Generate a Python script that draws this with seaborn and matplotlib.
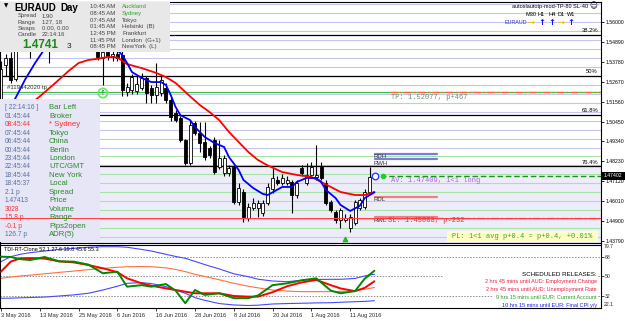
import numpy as np
import pandas as pd
import matplotlib
matplotlib.use("Agg")
import matplotlib.pyplot as plt
import seaborn as sns
from matplotlib.patches import Rectangle

sns.set_style("white")
plt.rcParams["font.family"] = ["Liberation Sans", "DejaVu Sans"]

W, H = 625, 321

# ---------------- data ----------------
opens = [1.5150, 1.5360, 1.5399, 1.5280, 1.5450, 1.5500, 1.5530, 1.5470, 1.5540, 1.5570,
         1.5510, 1.5530, 1.5600, 1.5630, 1.5590, 1.5620, 1.5680, 1.5650, 1.5580, 1.5540,
         1.5480, 1.5400, 1.5430, 1.5410, 1.5420, 1.5416, 1.5210, 1.5221, 1.5215, 1.5232,
         1.5288, 1.5232, 1.5193, 1.5204, 1.5232, 1.5165, 1.5092, 1.5065, 1.4942, 1.4814,
         1.5037, 1.4981, 1.4931, 1.4897, 1.4942, 1.4791, 1.4758, 1.4758, 1.4791, 1.4596,
         1.4652, 1.4507, 1.4563, 1.4563, 1.4535, 1.4591, 1.4669, 1.4719, 1.4702, 1.4702,
         1.4708, 1.4635, 1.4786, 1.4702, 1.4747, 1.4736, 1.4791, 1.4702, 1.4596, 1.4540,
         1.4496, 1.4496, 1.4451, 1.4479, 1.4563, 1.4568, 1.4652, 1.4736]
highs = [1.5380, 1.5420, 1.5430, 1.5470, 1.5520, 1.5560, 1.5580, 1.5560, 1.5600, 1.5620,
         1.5560, 1.5620, 1.5660, 1.5680, 1.5650, 1.5700, 1.5740, 1.5700, 1.5620, 1.5580,
         1.5520, 1.5470, 1.5480, 1.5460, 1.5450, 1.5440, 1.5260, 1.5310, 1.5300, 1.5316,
         1.5300, 1.5250, 1.5371, 1.5300, 1.5260, 1.5180, 1.5110, 1.5075, 1.4950, 1.5053,
         1.5050, 1.5042, 1.5042, 1.4910, 1.4960, 1.4942, 1.4860, 1.4800, 1.4800, 1.4700,
         1.4670, 1.4590, 1.4620, 1.4610, 1.4610, 1.4700, 1.4786, 1.4740, 1.4750, 1.4740,
         1.4720, 1.4720, 1.4800, 1.4814, 1.4819, 1.4914, 1.4819, 1.4720, 1.4610, 1.4550,
         1.4560, 1.4530, 1.4530, 1.4610, 1.4620, 1.4670, 1.4791, 1.4745]
lows = [1.5120, 1.5300, 1.5260, 1.5270, 1.5440, 1.5460, 1.5399, 1.5450, 1.5500, 1.5480,
        1.5370, 1.5510, 1.5560, 1.5570, 1.5540, 1.5600, 1.5620, 1.5560, 1.5500, 1.5440,
        1.5390, 1.5249, 1.5390, 1.5385, 1.5380, 1.5190, 1.5190, 1.5200, 1.5200, 1.5220,
        1.5148, 1.5148, 1.5148, 1.5190, 1.5150, 1.5050, 1.5040, 1.4930, 1.4802, 1.4800,
        1.4970, 1.4875, 1.4830, 1.4840, 1.4750, 1.4780, 1.4740, 1.4740, 1.4585, 1.4580,
        1.4485, 1.4490, 1.4550, 1.4513, 1.4520, 1.4580, 1.4646, 1.4690, 1.4690, 1.4690,
        1.4535, 1.4620, 1.4740, 1.4690, 1.4730, 1.4720, 1.4720, 1.4580, 1.4540, 1.4480,
        1.4451, 1.4485, 1.4429, 1.4470, 1.4550, 1.4555, 1.4640, 1.4735]
closes = [1.5340, 1.5399, 1.5277, 1.5450, 1.5500, 1.5530, 1.5470, 1.5540, 1.5570, 1.5510,
          1.5530, 1.5600, 1.5630, 1.5590, 1.5620, 1.5680, 1.5650, 1.5580, 1.5540, 1.5480,
          1.5405, 1.5430, 1.5410, 1.5420, 1.5400, 1.5221, 1.5237, 1.5293, 1.5255, 1.5288,
          1.5204, 1.5193, 1.5237, 1.5277, 1.5165, 1.5070, 1.5053, 1.4942, 1.4814, 1.5026,
          1.4981, 1.4925, 1.4847, 1.4858, 1.4763, 1.4841, 1.4841, 1.4786, 1.4596, 1.4674,
          1.4513, 1.4568, 1.4591, 1.4591, 1.4591, 1.4680, 1.4730, 1.4702, 1.4730, 1.4719,
          1.4635, 1.4702, 1.4758, 1.4747, 1.4791, 1.4747, 1.4730, 1.4591, 1.4551, 1.4496,
          1.4551, 1.4507, 1.4513, 1.4596, 1.4607, 1.4652, 1.4736, 1.4740]

date_ticks = [0, 8, 16, 24, 32, 40, 48, 56, 64, 72]
date_labels = ["3 May 2016", "13 May 2016", "25 May 2016", "6 Jun 2016", "16 Jun 2016",
               "28 Jun 2016", "8 Jul 2016", "20 Jul 2016", "1 Aug 2016", "11 Aug 2016"]

fast_idx = [0, 1, 3, 5, 7, 9, 12, 15, 18, 21, 23, 25, 26, 27, 29, 31, 33, 34, 35, 36,
            37, 39, 40, 42, 44, 46, 47, 49, 50, 52, 54, 55, 56, 58, 60, 61, 63, 65, 66, 67,
            69, 70, 72, 74, 75, 77]
fast_ma = [1.5000, 1.5080, 1.5176, 1.5280, 1.5370, 1.5450, 1.5530, 1.5580, 1.5580, 1.5530,
           1.5470, 1.5416, 1.5371, 1.5321, 1.5288, 1.5265, 1.5265, 1.5249, 1.5193, 1.5126,
           1.5080, 1.5053, 1.5014, 1.4959, 1.4925, 1.4903, 1.4847, 1.4775, 1.4719, 1.4674,
           1.4641, 1.4635, 1.4650, 1.4680, 1.4680, 1.4708, 1.4730, 1.4730, 1.4708, 1.4663,
           1.4618, 1.4580, 1.4546, 1.4575, 1.4618, 1.4650]
slow_idx = [0, 3, 5, 8, 11, 14, 16, 18, 20, 22, 24, 26, 29, 32, 34, 36, 39, 41, 43, 45,
            47, 49, 51, 53, 55, 58, 61, 64, 66, 68, 70, 73, 75, 77]
slow_ma = [1.5000, 1.5070, 1.5120, 1.5185, 1.5255, 1.5328, 1.5371, 1.5388, 1.5395, 1.5405,
           1.5402, 1.5365, 1.5343, 1.5316, 1.5293, 1.5260, 1.5185, 1.5137, 1.5098, 1.5053,
           1.4987, 1.4931, 1.4875, 1.4830, 1.4800, 1.4763, 1.4747, 1.4736, 1.4708, 1.4680,
           1.4652, 1.4635, 1.4635, 1.4652]

tdi_idx = [0, 2, 4, 6, 9, 12, 15, 18, 21, 24, 26, 29, 31, 34, 36, 38, 40, 42, 45, 48,
           51, 53, 56, 59, 62, 65, 68, 70, 73, 75, 77]
tdi_upper = [63.7, 68.3, 70.5, 72.0, 73.5, 75.0, 76.0, 77.0, 77.5, 77.5, 77.0, 75.0, 73.5,
             70.5, 68.5, 66.8, 64.0, 61.0, 57.0, 52.5, 49.8, 47.5, 45.8, 45.2, 46.5, 47.2,
             47.4, 47.4, 48.2, 50.5, 52.1]
tdi_lower = [29.9, 30.0, 30.3, 30.6, 31.0, 32.0, 33.0, 34.5, 37.5, 41.0, 43.7, 44.3, 43.5,
             40.6, 37.5, 34.5, 30.5, 28.0, 25.0, 23.7, 23.2, 23.5, 24.6, 25.0, 25.3, 25.6,
             25.8, 26.2, 26.7, 27.0, 27.6]
tdi_base = [48.3, 49.5, 50.5, 51.2, 52.5, 53.8, 55.0, 56.3, 57.5, 58.5, 59.0, 59.2, 59.0,
            58.0, 56.5, 54.5, 52.0, 50.0, 47.0, 43.7, 41.0, 39.5, 37.5, 36.5, 36.0, 36.0,
            36.0, 36.2, 37.0, 38.2, 39.8]
tdi_rsi = [68.3, 68.0, 66.0, 65.2, 68.0, 64.0, 63.7, 61.0, 53.0, 54.4, 40.6, 42.0, 40.6,
           43.0, 37.0, 25.3, 37.5, 33.0, 34.5, 30.0, 30.0, 32.5, 42.0, 43.7, 46.5, 48.3,
           37.0, 34.5, 36.5, 48.0, 55.3]
tdi_signal = [54.4, 63.7, 66.8, 67.0, 66.5, 64.0, 63.0, 60.6, 57.6, 54.0, 48.3, 43.7, 41.5,
              39.0, 37.5, 36.0, 34.5, 34.5, 34.5, 32.0, 31.4, 31.4, 35.5, 41.0, 44.5, 46.8,
              42.0, 39.0, 36.5, 39.5, 45.6]
tdi_levels = [68, 50, 32]

price_ticks = [1.56000, 1.54890, 1.53780, 1.52670, 1.51560, 1.50450, 1.49340, 1.48230,
               1.47120, 1.46010, 1.44900, 1.43790]
fib_levels = [1.5527, 1.5299, 1.5081, 1.4795]
fib_labels = ["38.2%", "50%", "61.8%", "76.4%"]
tp_level, sl_level, av_level, bid = 1.52077, 1.45088, 1.47409, 1.47402
rdh, rwh, rdl, rwl = 1.4864, 1.4834, 1.4626, 1.4515
entry_bar, entry_price = 21, 1.5204
arrow_bar, arrow_price = 71, 1.4392

panel_vals = ["[ 22:14:16 ]", "01:45:44", "08:45:44", "07:45:44", "06:45:44", "00:45:44",
              "23:45:44", "22:45:44", "18:45:44", "18:45:37", "2.1 p", "1.47413", "3028",
              "15.8 p", "-0.1 p", "126.7 p"]
panel_names = ["Bar Left", "Broker", "* Sydney", "Tokyo", "China", "Berlin", "London",
               "UTC/GMT", "New York", "Local", "Spread", "Price", "Volume", "Range",
               "Pips2open", "ADR(5)"]
info_labels = ["Spread", "Range", "Swaps", "Candle"]
info_values = ["1.90", "127, 18", "0.00, 0.00", "22:14:16"]
clock_times = ["10:45 AM", "08:45 AM", "07:45 AM", "01:45 AM", "12:45 PM", "11:45 PM", "08:45 PM"]
clock_cities = ["Auckland", "Sydney", "Tokyo", "Helsinki  (B)", "Frankfurt", "London  (G+1)", "NewYork  (L)"]
news = ["2 hrs 45 mins until AUD: Employment Change",
        "2 hrs 45 mins until AUD: Unemployment Rate",
        "9 hrs 15 mins until EUR: Current Account",
        "10 hrs 15 mins until EUR: Final CPI y/y"]
tf_names = ["M30", "H1", "H4", "D1", "W1"]
tf_arrows = ["→", "↑", "↑", "→", "↑"]

# ---------------- figure ----------------
fig = plt.figure(figsize=(W / 100, H / 100), dpi=100)
fig.patch.set_facecolor("white")
ax = fig.add_axes([0, 1 - 243 / H, 601 / W, (243 - 1.5) / H])
ax2 = fig.add_axes([0, 1 - 308 / H, 601 / W, (308 - 244.5) / H], sharex=ax)
PXB = 4.85
x_left = -0.2
ax.set_xlim(x_left, x_left + 601 / PXB)
ax.set_ylim(1.43674, 1.57143)
ax2.set_ylim(20.9, 79.54)
TF = fig.transFigure
AXF = 3.7  # axis label font size

def fx(px):
    return px / W

def fy(py):
    return 1 - py / H

def ptext(x, y, s, **kw):
    kw.setdefault("va", "center")
    kw.setdefault("zorder", 8)
    ax.text(fx(x), fy(y), s, transform=TF, clip_on=False, **kw)

for a in (ax, ax2):
    a.set_facecolor("white")
    for sp in a.spines.values():
        sp.set_color("black")
        sp.set_linewidth(0.8)

# background zone and grid
ax.axhspan(1.43, fib_levels[3], color="#ededfa", zorder=0)
for lv in np.arange(1.435, 1.58, 0.01):
    ax.axhline(lv, color="#a6e2a6", lw=0.8, zorder=0.5)
for lv in np.arange(1.44, 1.58, 0.01):
    ax.axhline(lv, color="#c6c6f0", lw=0.8, zorder=0.5)
for lv, lb in zip(fib_levels, fib_labels):
    ax.axhline(lv, color="black", lw=0.9, zorder=1)
    ax.text(598 / 601, lv + 0.0009, lb, transform=ax.get_yaxis_transform(),
            ha="right", va="bottom", fontsize=4.2, color="black", zorder=2)

# candles
bars = pd.DataFrame({"bar": range(len(opens)), "open": opens, "high": highs,
                     "low": lows, "close": closes})
bull = bars["close"] >= bars["open"]
ax.vlines(bars["bar"], bars["low"], bars["high"], color="black", lw=0.8, zorder=2)
body_bottom = bars[["open", "close"]].min(axis=1)
body_h = (bars["close"] - bars["open"]).abs().clip(lower=0.0003)
ax.bar(bars["bar"], body_h, bottom=body_bottom, width=0.62,
       color=np.where(bull, "white", "black"), edgecolor="black", linewidth=0.6, zorder=2.5)

# moving averages
sns.lineplot(x=slow_idx, y=slow_ma, ax=ax, color="#ff0000", lw=1.3, zorder=3)
sns.lineplot(x=fast_idx, y=fast_ma, ax=ax, color="#0000ff", lw=1.3, zorder=3.1)

# order lines
yt = ax.get_yaxis_transform()
ax.axhline(tp_level, color="#44bb44", lw=0.9, zorder=1.6)
ax.plot([390 / 601, 1], [tp_level, tp_level], transform=yt, color="#ff6a30", lw=1.0,
        ls=(0, (5, 2, 1, 2)), zorder=1.7)
ax.plot([380 / 601, 1], [sl_level, sl_level], transform=yt, color="#ff6a30", lw=1.0,
        ls=(0, (5, 2, 1, 2)), zorder=1.7)
ax.plot([372 / 601, 1], [av_level, av_level], transform=yt, color="#1f8f1f", lw=1.0,
        ls=(0, (4, 2)), zorder=1.7)
for lv, col in [(rdh, "#7b7be0"), (rwh, "#7b7be0"), (rdl, "#f08080"), (rwl, "#f08080")]:
    ax.plot([375 / 601, 437 / 601], [lv, lv], transform=yt, color=col, lw=1.6, zorder=1.8)

ax.scatter([entry_bar], [entry_price], s=45, facecolors="none", edgecolors="#66ee66",
           linewidths=1.3, zorder=4)
ax.text(entry_bar, entry_price, "↑", ha="center", va="center", fontsize=5,
        color="#118811", family="DejaVu Sans", zorder=4.1)
ax.scatter([arrow_bar], [arrow_price], s=10, marker="^", color="#22bb22", zorder=4)
ax.scatter([len(opens) - 1 + 0.15], [bid], s=22, facecolors="white", edgecolors="#2040ff",
           linewidths=1.0, zorder=4)
ax.scatter([78.8], [av_level], s=9, color="#22cc22", zorder=4)

# panels
ax.add_patch(Rectangle((0, fy(52)), fx(170), 52 / H, transform=TF, facecolor="#e8e8e8",
                       edgecolor="none", zorder=6))
ax.add_patch(Rectangle((0, fy(242)), fx(100), (242 - 99) / H, transform=TF,
                       facecolor="#e6e6f6", edgecolor="none", zorder=6))
ax.axhline(sl_level, color="#ff3b3b", lw=0.7, zorder=6.5)

ptext(4, 6, "▼", fontsize=4, family="DejaVu Sans", color="black")
ptext(14, 8, "EURAUD", fontsize=7.0, fontweight="bold", color="black")
ptext(60, 8, "Day", fontsize=7.0, fontweight="bold", color="black")
for k, (lb, vl) in enumerate(zip(info_labels, info_values)):
    yy = 16 + 6.1 * k
    ptext(18, yy, lb, fontsize=4.3, color="#444444")
    ptext(42, yy, vl, fontsize=4.3, color="#444444")
ptext(22, 45, "1.4741", fontsize=8.5, fontweight="bold", color="#1a8a1a")
ptext(67, 46, "3", fontsize=6, color="#222222")
for k, (tm, ct) in enumerate(zip(clock_times, clock_cities)):
    yy = 6.7 + 6.7 * k
    ptext(90, yy, tm, fontsize=4.3, color="#444444")
    ptext(122, yy, ct, fontsize=4.3, color="#2fa02f" if k < 2 else "#444444")

red_vals = {2, 12, 13, 14}
for k, (vl, nm) in enumerate(zip(panel_vals, panel_names)):
    yy = 107.7 + 8.47 * k
    ptext(5, yy, vl, fontsize=4.8, color="#ff3030" if k in red_vals else "#5b6f9c")
    ptext(49, yy, nm, fontsize=5.6, color="#ff3030" if k == 2 else "#2a8a2a")

ptext(7, 88, "#119442020 tp", fontsize=4.3, color="#333333", zorder=5)

# right-side annotations
mono = "Liberation Mono"
ptext(391, 97.5, "TP: 1.52077, p+467", fontsize=5, family=mono, color="#6e8f6e", zorder=5)
ptext(391, 180.8, "AV: 1.47409, 1<1 long", fontsize=5, family=mono, color="#a862d8", zorder=5)
ptext(374, 220.5, "RWL", fontsize=4.3, color="#333333", zorder=5)
ptext(388, 220.5, "SL: 1.45088, p-232", fontsize=5, family=mono, color="#e03030", zorder=5)
ptext(374, 157, "RDH", fontsize=4.3, color="#333333", zorder=5)
ptext(374, 163.3, "RWH", fontsize=4.3, color="#333333", zorder=5)
ptext(374, 199.5, "RDL", fontsize=4.3, color="#333333", zorder=5)
ax.add_patch(Rectangle((fx(447), fy(242)), (598 - 447) / W, 11 / H, transform=TF,
                       facecolor="#ffffc4", edgecolor="none", zorder=5))
ptext(452, 236.7, "PL: 1<1 avg p+0.4 = p+0.4, +0.01%", fontsize=5, family=mono,
      color="#3f9a3f", zorder=6)
ptext(588, 6.3, "autoslautotp-mod-TP-80 SL-40", fontsize=4.0, ha="right", color="black")
ptext(593, 6.3, "☺", fontsize=5.5, ha="center", family="DejaVu Sans", color="black")
tf_x = [531.5, 541.5, 551.7, 561.5, 571.0]
for xx, nm, ar in zip(tf_x, tf_names, tf_arrows):
    ptext(xx, 15, nm, fontsize=4.0, ha="center", color="black")
    ptext(xx, 22.7, ar, fontsize=6, ha="center", family="DejaVu Sans", fontweight="bold",
          color="#f0c000" if ar == "→" else "#1010ff")
ptext(527, 22.7, "EURAUD", fontsize=3.9, ha="right", color="#3030c0")

# axis ticks main
ax.yaxis.tick_right()
ax.set_yticks(price_ticks)
ax.set_yticklabels([f"{v:.5f}" for v in price_ticks])
ax.tick_params(axis="y", labelsize=AXF, length=2, width=0.6, pad=1.0, colors="black")
ax.tick_params(axis="x", bottom=False, labelbottom=False)
ax.set_xlabel("")
ax.set_ylabel("")
fig.add_artist(Rectangle((fx(601.5), fy(180)), 23 / W, 8 / H, transform=TF,
                         facecolor="black", edgecolor="none", zorder=9))
fig.text(fx(612.5), fy(176), "1.47402", ha="center", va="center", fontsize=AXF,
         color="white", zorder=10)

# ---------------- TDI panel ----------------
for lv in tdi_levels:
    ax2.axhline(lv, color="#8c8c8c", lw=0.7, ls=(0, (1.5, 1.5)), zorder=1)
sns.lineplot(x=tdi_idx, y=tdi_upper, ax=ax2, color="#4848ff", lw=0.8, zorder=2)
sns.lineplot(x=tdi_idx, y=tdi_lower, ax=ax2, color="#4848ff", lw=0.8, zorder=2)
sns.lineplot(x=tdi_idx, y=tdi_base, ax=ax2, color="#ff7040", lw=0.8, zorder=2)
sns.lineplot(x=tdi_idx, y=tdi_signal, ax=ax2, color="#ff0000", lw=1.4, zorder=3)
sns.lineplot(x=tdi_idx, y=tdi_rsi, ax=ax2, color="#008800", lw=1.4, zorder=3.1)
ax2.text(fx(4), fy(249.5), "TDI-RT-Clone 52.1 27.6 39.8 45.6 55.3", transform=TF,
         fontsize=4.0, va="center", color="black", zorder=5)
ax2.add_patch(Rectangle((fx(443), fy(287)), (598 - 443) / W, 17 / H, transform=TF,
                        facecolor="white", edgecolor="none", zorder=4))
ax2.add_patch(Rectangle((fx(493), fy(307)), (598 - 493) / W, 20 / H, transform=TF,
                        facecolor="white", edgecolor="none", zorder=4))
ax2.text(fx(597), fy(274), "SCHEDULED RELEASES:", transform=TF, fontsize=4.5,
         ha="right", va="center", color="black", zorder=5)
news_cols = ["#ee2040", "#ee2040", "#2a9a2a", "#2020ee"]
for k, (s, c) in enumerate(zip(news, news_cols)):
    ax2.text(fx(597), fy(282 + 7.7 * k), s, transform=TF, fontsize=4.0, ha="right",
             va="center", color=c, zorder=5)

ax2.yaxis.tick_right()
ax2.set_yticks(tdi_levels)
ax2.set_yticklabels([str(v) for v in tdi_levels])
ax2.tick_params(axis="y", labelsize=AXF, length=2, width=0.6, pad=1.0)
ax2.set_xticks(date_ticks)
ax2.set_xticklabels(date_labels, ha="left")
ax2.tick_params(axis="x", labelsize=4.1, length=2, width=0.6, pad=1.5, bottom=True)
ax2.set_xlabel("")
ax2.set_ylabel("")
fig.text(fx(604), fy(247), "79.7", fontsize=AXF, va="center", ha="left")
fig.text(fx(604), fy(305), "22.1", fontsize=AXF, va="center", ha="left")

fig.savefig("out.png", dpi=100)
